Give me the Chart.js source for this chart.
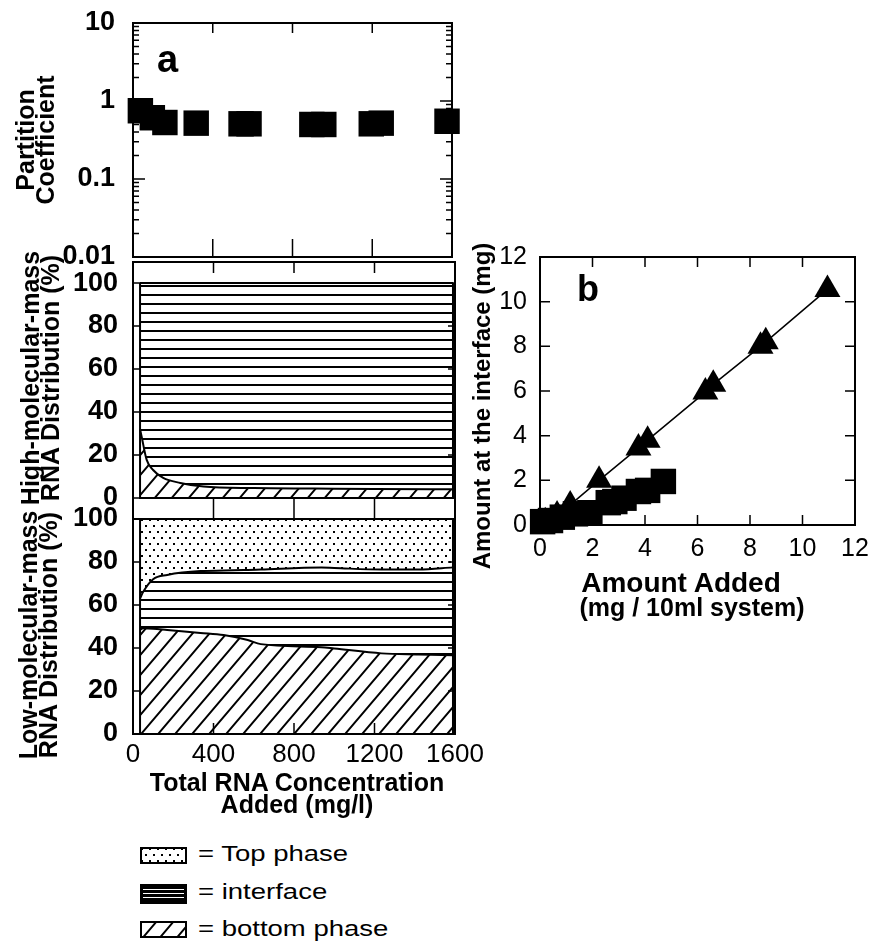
<!DOCTYPE html>
<html>
<head>
<meta charset="utf-8">
<title>RNA partitioning</title>
<script src="https://cdn.jsdelivr.net/npm/chart.js@4.4.1/dist/chart.umd.min.js"></script>
<style>
html,body{margin:0;padding:0;background:#fff;}
#fig{position:relative;width:873px;height:950px;overflow:hidden;background:#fff;color:#000;font-family:"Liberation Sans",Arial,Helvetica,sans-serif;}
#fig canvas{position:absolute;}
.txt{position:absolute;white-space:nowrap;color:#000;}
.b{font-weight:bold;}
.rot{text-align:center;transform:rotate(-90deg);transform-origin:50% 50%;}
.leg{font-size:22px;line-height:22px;transform:scaleX(1.25);transform-origin:0 50%;}
</style>
</head>
<body>
<div id="fig">
<canvas id="cA" width="470" height="275" style="left:0;top:0"></canvas>
<canvas id="cB" width="470" height="290" style="left:0;top:240px"></canvas>
<canvas id="cC" width="500" height="280" style="left:0;top:500px"></canvas>
<canvas id="cD" width="413" height="345" style="left:460px;top:230px"></canvas>

<div class="txt b" style="left:157px;top:40px;font-size:38px;line-height:38px">a</div>
<div class="txt b" style="left:577px;top:271px;font-size:36px;line-height:36px">b</div>

<div class="txt b rot" style="left:-115px;top:120px;width:300px;height:40px;font-size:25px;line-height:20px">Partition<br>Coefficient</div>
<div class="txt b rot" style="left:-110px;top:358px;width:300px;height:40px;font-size:25px;line-height:20px">High-molecular-mass<br>RNA Distribution (%)</div>
<div class="txt b rot" style="left:-112px;top:615px;width:300px;height:40px;font-size:25px;line-height:20px">Low-molecular-mass<br>RNA Distribution (%)</div>
<div class="txt b rot" style="left:282px;top:394px;width:400px;height:24px;font-size:24px;line-height:24px">Amount at the interface (mg)</div>

<div class="txt b" style="left:97px;top:772px;width:400px;text-align:center;font-size:25px;line-height:21.5px">Total RNA Concentration<br>Added (mg/l)</div>
<div class="txt b" style="left:531px;top:569px;width:300px;text-align:center;font-size:28px;line-height:28px">Amount Added</div>
<div class="txt b" style="left:542px;top:595px;width:300px;text-align:center;font-size:25px;line-height:25px">(mg / 10ml system)</div>

<canvas id="lg0" width="47" height="17" style="left:140px;top:847px"></canvas>
<canvas id="lg1" width="47" height="20" style="left:140px;top:884px"></canvas>
<canvas id="lg2" width="47" height="17" style="left:140px;top:921px"></canvas>
<div class="txt leg" style="left:198px;top:843px">= Top phase</div>
<div class="txt leg" style="left:198px;top:881px">= interface</div>
<div class="txt leg" style="left:198px;top:918px">= bottom phase</div>
</div>

<script>
// ---------------- DATA ----------------
// Panel a (top): partition coefficient vs total RNA concentration (mg/l)
const partitionX = [37, 97, 160, 317, 542, 582, 897, 957, 1195, 1245, 1575];
const partitionY = [0.75, 0.61, 0.53, 0.52, 0.51, 0.51, 0.50, 0.50, 0.51, 0.52, 0.55];
const partitionTicks = [0.01, 0.1, 1, 10];

// shared concentration axis ticks
const concTicks = [0, 400, 800, 1200, 1600];
const distTicks = [0, 20, 40, 60, 80, 100];

// High-molecular-mass RNA distribution (%)
const hmmX         = [35, 43, 68, 100, 150, 235, 350, 600, 900, 1200, 1590];
const hmmBottom    = [32, 28.5, 17.7, 13, 9.3, 7, 5.3, 4.6, 4.4, 4.2, 4.0];
const hmmInterface = [68, 71.5, 82.3, 87, 90.7, 93, 94.7, 95.4, 95.6, 95.8, 96.0];
const hmmTop       = [0, 0, 0, 0, 0, 0, 0, 0, 0, 0, 0];

// Low-molecular-mass RNA distribution (%)
const lmmX         = [35, 50, 100, 170, 335, 450, 570, 635, 935, 1000, 1235, 1420, 1590];
const lmmBottom    = [48.5, 49.2, 49, 48.4, 47, 46, 43.7, 41.8, 40.4, 39.8, 37.5, 37, 36.6];
const lmmInterface = [14.5, 16.8, 23, 25.6, 28.8, 30, 32.6, 34.7, 37, 37.4, 39, 39.5, 40.9];
const lmmTop       = [37, 34, 28, 26, 24.2, 24, 23.7, 23.5, 22.6, 22.8, 23.5, 23.5, 22.5];

// Panel b: amount at the interface vs amount added
const triX = [0.2, 0.65, 1.15, 2.25, 3.75, 4.1, 6.3, 6.6, 8.4, 8.6, 10.95];
const triY = [0.15, 0.45, 0.9, 2.0, 3.45, 3.8, 5.95, 6.3, 8.0, 8.2, 10.55];
const sqX  = [0.1, 0.4, 0.85, 1.35, 1.9, 2.6, 2.85, 3.2, 3.75, 4.1, 4.7];
const sqY  = [0.15, 0.2, 0.35, 0.5, 0.55, 1.0, 1.05, 1.2, 1.5, 1.55, 1.95];
const bTicks = [0, 2, 4, 6, 8, 10, 12];

// ---------------- SETUP ----------------
const FONT = "'Liberation Sans', Arial, Helvetica, sans-serif";
Chart.defaults.font.family = FONT;
Chart.defaults.color = '#000';
Chart.defaults.animation = false;
Chart.defaults.events = [];
Chart.defaults.plugins.legend.display = false;
Chart.defaults.plugins.tooltip.enabled = false;

function makePattern(w, h, draw) {
  const c = document.createElement('canvas');
  c.width = w; c.height = h;
  const g = c.getContext('2d');
  g.fillStyle = '#fff'; g.fillRect(0, 0, w, h);
  g.fillStyle = '#000'; g.strokeStyle = '#000';
  draw(g, w, h);
  return g.createPattern(c, 'repeat');
}
const dotPat = makePattern(8, 12, g => { g.fillRect(1, 1, 2, 2); g.fillRect(5, 7, 2, 2); });
const linePat = makePattern(4, 9, g => { g.fillRect(0, 0, 4, 2); });
const diagPat = makePattern(17, 20, g => {
  g.lineWidth = 2;
  g.beginPath();
  g.moveTo(-17, 20); g.lineTo(17, -20);
  g.moveTo(0, 20); g.lineTo(17, 0);
  g.moveTo(0, 40); g.lineTo(34, 0);
  g.stroke();
});

function pts(xs, ys) { return xs.map((x, i) => ({ x: x, y: ys[i] })); }

// fix the axis box size and drop the automatic label-overflow padding
function fitY(w) { return s => { s.width = w; s.paddingTop = 0; s.paddingBottom = 0; s.paddingLeft = 0; s.paddingRight = 0; }; }
function fitX(h) { return s => { s.height = h; s.paddingTop = 0; s.paddingBottom = 0; s.paddingLeft = 0; s.paddingRight = 0; }; }

function framePlugin(spec) {
  return {
    id: 'frame',
    afterDatasetsDraw(chart) {
      const ctx = chart.ctx, a = chart.chartArea, sx = chart.scales.x, sy = chart.scales.y;
      ctx.save();
      ctx.strokeStyle = '#000';
      ctx.lineWidth = 1.5;
      ctx.beginPath();
      (spec.xTicks || []).forEach(v => {
        const x = sx.getPixelForValue(v);
        if (spec.xTop) { ctx.moveTo(x, a.top); ctx.lineTo(x, a.top + spec.xTop); }
        if (spec.xBottom) { ctx.moveTo(x, a.bottom); ctx.lineTo(x, a.bottom - spec.xBottom); }
      });
      (spec.yTicks || []).forEach(t => {
        const y = sy.getPixelForValue(t.v);
        ctx.moveTo(a.left, y); ctx.lineTo(a.left + t.len, y);
        ctx.moveTo(a.right, y); ctx.lineTo(a.right - t.len, y);
      });
      ctx.stroke();
      ctx.lineWidth = 2;
      ctx.strokeRect(a.left, a.top, a.right - a.left, a.bottom - a.top);
      ctx.restore();
    }
  };
}

const areaEdges = {
  id: 'areaEdges',
  afterDatasetsDraw(chart, args, opts) {
    const xs = opts.xs; if (!xs) return;
    const ctx = chart.ctx, sx = chart.scales.x, sy = chart.scales.y;
    const x0 = sx.getPixelForValue(xs[0]), x1 = sx.getPixelForValue(xs[xs.length - 1]);
    const y0 = sy.getPixelForValue(0), y1 = sy.getPixelForValue(100);
    ctx.save();
    ctx.strokeStyle = '#000'; ctx.lineWidth = 2;
    ctx.beginPath();
    ctx.moveTo(x0, y1); ctx.lineTo(x0, y0); ctx.lineTo(x1, y0); ctx.lineTo(x1, y1);
    ctx.stroke();
    ctx.restore();
  }
};

const boldTick = { size: 27, weight: 'bold' };

// ---------------- PANEL a: partition coefficient ----------------
const minorA = [];
partitionTicks.slice(0, -1).forEach(d => { for (let k = 2; k <= 9; k++) minorA.push(d * k); });

new Chart(document.getElementById('cA'), {
  type: 'scatter',
  data: { datasets: [{
    data: pts(partitionX, partitionY),
    pointStyle: 'rect', pointRadius: 18,
    backgroundColor: '#000', borderColor: '#000', borderWidth: 0,
    clip: false
  }] },
  options: {
    responsive: false,
    layout: { padding: { top: 23, right: 15, bottom: 14, left: 0 } },
    scales: {
      x: { type: 'linear', min: 0, max: 1600, display: false },
      y: {
        type: 'logarithmic', min: 0.01, max: 10,
        afterFit: fitY(133),
        afterBuildTicks: s => { s.ticks = partitionTicks.map(v => ({ value: v })); },
        grid: { display: false, drawTicks: false }, border: { display: false },
        ticks: { padding: 18, font: boldTick, callback: v => String(v) }
      }
    }
  },
  plugins: [framePlugin({
    xTicks: concTicks.slice(1, -1), xTop: 10, xBottom: 18,
    yTicks: partitionTicks.map(v => ({ v: v, len: 12 })).concat(minorA.map(v => ({ v: v, len: 6 })))
  })]
});

// ---------------- area charts ----------------
function areaChart(id, xs, bottom, inter, top, yMin, yMax, showX, pad) {
  const common = { pointRadius: 0, borderColor: '#000', borderWidth: 2, cubicInterpolationMode: 'monotone' };
  return new Chart(document.getElementById(id), {
    type: 'line',
    data: { datasets: [
      Object.assign({ label: 'bottom phase', data: pts(xs, bottom), backgroundColor: diagPat, fill: 'origin' }, common),
      Object.assign({ label: 'interface', data: pts(xs, inter), backgroundColor: linePat, fill: '-1' }, common),
      Object.assign({ label: 'Top phase', data: pts(xs, top), backgroundColor: dotPat, fill: '-1' }, common)
    ] },
    options: {
      responsive: false,
      layout: { padding: pad },
      scales: {
        x: showX ? {
          type: 'linear', min: 0, max: 1600,
          afterFit: fitX(36),
          afterBuildTicks: s => { s.ticks = concTicks.map(v => ({ value: v })); },
          grid: { display: false, drawTicks: false }, border: { display: false },
          ticks: { padding: 5, font: { size: 26 }, callback: v => String(v) }
        } : { type: 'linear', min: 0, max: 1600, display: false },
        y: {
          type: 'linear', min: yMin, max: yMax, stacked: true,
          afterFit: fitY(133),
          afterBuildTicks: s => { s.ticks = distTicks.map(v => ({ value: v })); },
          grid: { display: false, drawTicks: false }, border: { display: false },
          ticks: { padding: 15, font: boldTick, callback: v => String(v) }
        }
      },
      plugins: { areaEdges: { xs: xs } }
    },
    plugins: [areaEdges, framePlugin({
      xTicks: concTicks.slice(1, -1), xTop: showX ? 0 : 11, xBottom: showX ? 11 : 20,
      yTicks: distTicks.map(v => ({ v: v, len: 7 }))
    })]
  });
}

areaChart('cB', hmmX, hmmBottom, hmmInterface, hmmTop, -9.8, 109.8, false, { top: 22, right: 15, bottom: 11, left: 0 });
areaChart('cC', lmmX, lmmBottom, lmmInterface, lmmTop, 0, 100, true, { top: 19, right: 45, bottom: 10, left: 0 });

// ---------------- PANEL b ----------------
new Chart(document.getElementById('cD'), {
  type: 'scatter',
  data: { datasets: [
    { data: pts(triX, triY), showLine: true, borderColor: '#000', borderWidth: 1.5,
      pointStyle: 'triangle', pointRadius: 15, pointBackgroundColor: '#000', pointBorderColor: '#000', pointBorderWidth: 0, clip: false },
    { data: pts(sqX, sqY), showLine: false,
      pointStyle: 'rect', pointRadius: 18, pointBackgroundColor: '#000', pointBorderColor: '#000', pointBorderWidth: 0, clip: false }
  ] },
  options: {
    responsive: false,
    layout: { padding: { top: 27, right: 13, bottom: 14, left: 0 } },
    scales: {
      x: {
        type: 'linear', min: 0, max: 12,
        afterFit: fitX(36),
        afterBuildTicks: s => { s.ticks = bTicks.map(v => ({ value: v })); },
        grid: { display: false, drawTicks: false }, border: { display: false },
        ticks: { padding: 9, font: { size: 25 }, callback: v => String(v) }
      },
      y: {
        type: 'linear', min: 0, max: 12,
        afterFit: fitY(80),
        afterBuildTicks: s => { s.ticks = bTicks.map(v => ({ value: v })); },
        grid: { display: false, drawTicks: false }, border: { display: false },
        ticks: { padding: 13, font: { size: 25 }, callback: v => String(v) }
      }
    }
  },
  plugins: [framePlugin({
    xTicks: bTicks.slice(1, -1), xTop: 10, xBottom: 10,
    yTicks: bTicks.slice(1, -1).map(v => ({ v: v, len: 10 }))
  })]
});

// ---------------- legend swatches ----------------
function swatch(id, fill) {
  const c = document.getElementById(id), g = c.getContext('2d');
  fill(g, c.width, c.height);
  g.strokeStyle = '#000'; g.lineWidth = 2;
  g.strokeRect(1, 1, c.width - 2, c.height - 2);
}
swatch('lg0', (g, w, h) => { g.fillStyle = dotPat; g.fillRect(0, 0, w, h); });
swatch('lg1', (g, w, h) => {
  g.fillStyle = '#000'; g.fillRect(0, 0, w, h);
  g.fillStyle = '#fff';
  [5, 9, 13].forEach(y => g.fillRect(3, y, w - 6, 1));
});
swatch('lg2', (g, w, h) => { g.fillStyle = diagPat; g.fillRect(0, 0, w, h); });
</script>
</body>
</html>
